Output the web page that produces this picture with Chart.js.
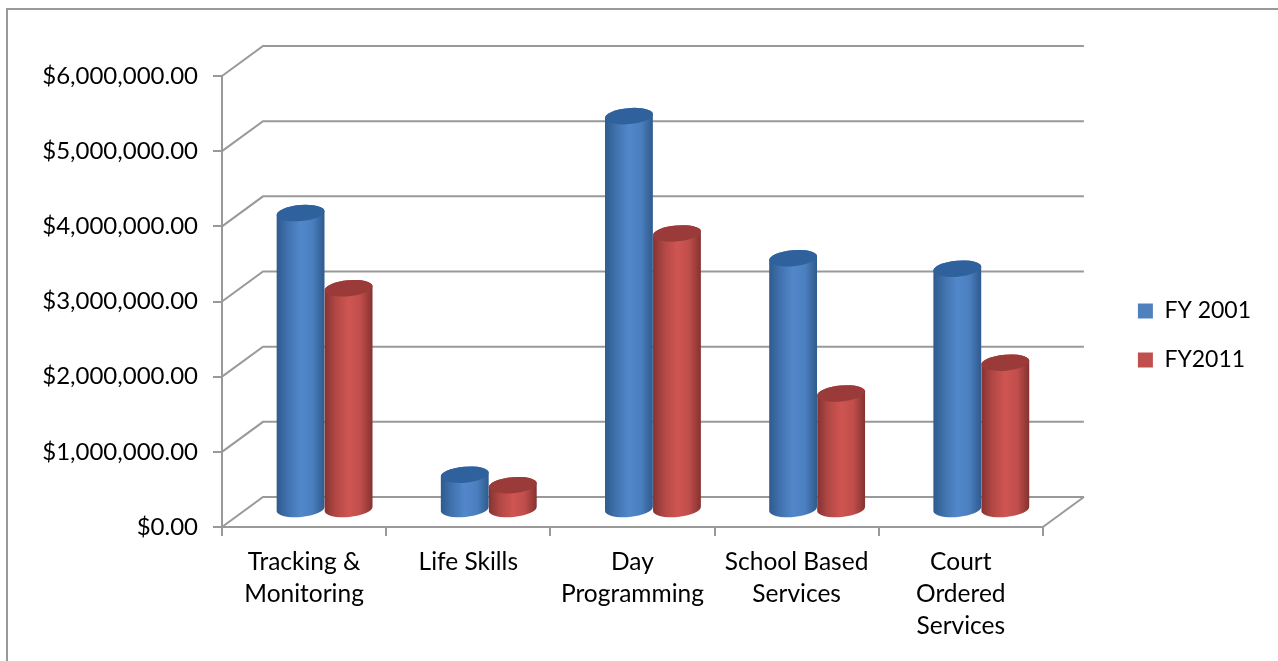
<!DOCTYPE html>
<html>
<head>
<meta charset="utf-8">
<title>FY 2001 vs FY2011</title>
<script src="https://cdn.jsdelivr.net/npm/chart.js@4"></script>
<style>
  html, body { margin: 0; padding: 0; background: #fff; }
  #wrap { position: relative; width: 1278px; height: 661px; }
</style>
</head>
<body>
<div id="wrap"><canvas id="chart"></canvas></div>
<script>
const categories = [
  ['Tracking &', 'Monitoring'],
  'Life Skills',
  ['Day', 'Programming'],
  ['School Based', 'Services'],
  ['Court', 'Ordered', 'Services']
];
const fy2001 = [3950000, 470000, 5240000, 3350000, 3210000];
const fy2011 = [2950000, 330000, 3680000, 1550000, 1960000];
const tickLabels = ['$0.00', '$1,000,000.00', '$2,000,000.00', '$3,000,000.00', '$4,000,000.00', '$5,000,000.00', '$6,000,000.00'];

const gray = '#999999';
const wallX = 41, wallY = 30;      // depth of the fake 3d box
const barX = 20.5, barY = 17;      // bars stand halfway into the box
const ry = 8, tilt = -0.09;

const faces = [
  { stops: ['#2f5a8e', '#3f71ac', '#5288cb', '#4a7fbf', '#2f5a8c'], top: '#2f629c' },
  { stops: ['#853331', '#b04744', '#cf5552', '#c04e4b', '#843230'], top: '#9a3b39' }
];

function drawCylinder(ctx, bar, face) {
  const rx = bar.width / 2;
  const cx = bar.x + barX;
  const top = bar.y - barY;
  const base = bar.base - barY;

  const grad = ctx.createLinearGradient(cx - rx, 0, cx + rx, 0);
  [0, 0.22, 0.5, 0.75, 1].forEach((p, i) => grad.addColorStop(p, face.stops[i]));

  ctx.beginPath();
  ctx.ellipse(cx, base, rx, ry, tilt, Math.PI, 0, true);
  ctx.ellipse(cx, top, rx, ry, tilt, 0, Math.PI, true);
  ctx.closePath();
  ctx.fillStyle = grad;
  ctx.fill();

  ctx.beginPath();
  ctx.ellipse(cx, top, rx, ry, tilt, 0, Math.PI * 2);
  ctx.fillStyle = face.top;
  ctx.fill();
}

// walls, floor and cylinders all take their positions from the chart scales
const box3d = {
  id: 'box3d',
  afterLayout(chart) {
    // legend sits higher than its default centre
    chart.legend.top -= 33;
    chart.legend.bottom -= 33;
  },
  beforeDatasetsDraw(chart) {
    const { ctx, chartArea: area, scales } = chart;
    ctx.save();
    ctx.strokeStyle = gray;
    ctx.lineWidth = 2;
    scales.y.ticks.forEach(t => {
      const y = scales.y.getPixelForValue(t.value);
      ctx.beginPath();
      ctx.moveTo(area.left, y);
      ctx.lineTo(area.left + wallX, y - wallY);
      ctx.lineTo(area.right + wallX, y - wallY);
      ctx.stroke();
    });
    ctx.beginPath();
    ctx.moveTo(area.right, area.bottom);
    ctx.lineTo(area.right + wallX, area.bottom - wallY);
    ctx.stroke();

    // page frame, only top and left show in the picture
    ctx.beginPath();
    ctx.moveTo(7, chart.height);
    ctx.lineTo(7, 9);
    ctx.lineTo(chart.width, 9);
    ctx.stroke();

    chart.data.datasets.forEach((ds, i) => {
      chart.getDatasetMeta(i).data.forEach(bar => drawCylinder(ctx, bar, faces[i]));
    });
    ctx.restore();
    return false;
  }
};

const family = 'Lato, "Open Sans", sans-serif';

new Chart(document.getElementById('chart'), {
  type: 'bar',
  data: {
    labels: categories,
    datasets: [
      { label: 'FY 2001', data: fy2001, backgroundColor: '#4f81bd', borderWidth: 0 },
      { label: 'FY2011', data: fy2011, backgroundColor: '#c0504d', borderWidth: 0 }
    ]
  },
  plugins: [box3d],
  options: {
    responsive: true,
    maintainAspectRatio: false,
    animation: false,
    layout: { padding: { top: 76, right: 17 } },
    datasets: { bar: { categoryPercentage: 0.585, barPercentage: 1 } },
    scales: {
      x: {
        afterFit: s => { s.height = 134; },
        grid: { offset: true, drawOnChartArea: false, color: gray, lineWidth: 2, tickLength: 9 },
        border: { color: gray, width: 2 },
        ticks: {
          color: '#000',
          font: { family, size: 24.5, lineHeight: 1.306 },
          padding: 10,
          maxRotation: 0,
          autoSkip: false
        }
      },
      y: {
        min: 0,
        max: 6000000,
        afterFit: s => { s.width = 222; },
        grid: { drawOnChartArea: false, color: gray, lineWidth: 2, tickLength: 9 },
        border: { color: gray, width: 2 },
        ticks: {
          stepSize: 1000000,
          color: '#000',
          font: { family, size: 24 },
          padding: 15,
          callback: (v, i) => tickLabels[i]
        }
      },
      spacer: {
        axis: 'y',
        position: 'right',
        afterFit: s => { s.width = 69; },
        grid: { display: false },
        border: { display: false },
        ticks: { display: false }
      }
    },
    plugins: {
      tooltip: { enabled: false },
      legend: {
        position: 'right',
        labels: { color: '#000', font: { family, size: 23 }, boxWidth: 15, boxHeight: 15, padding: 26 }
      }
    }
  }
});
</script>
</body>
</html>
